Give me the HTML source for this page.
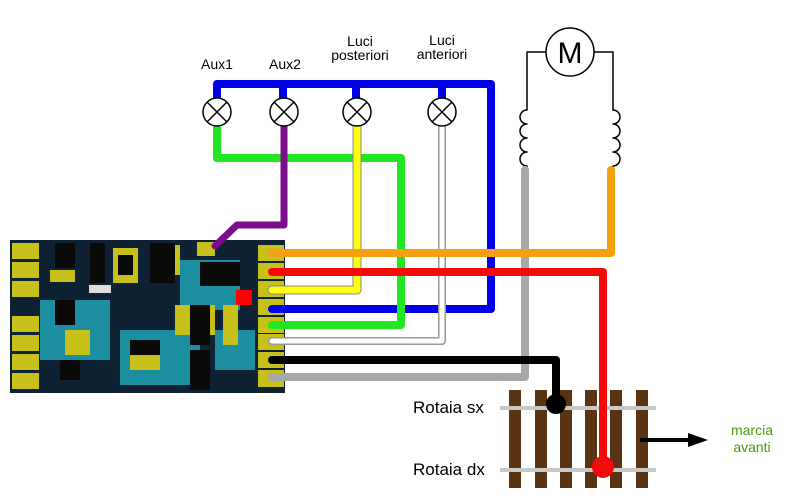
<!DOCTYPE html>
<html><head><meta charset="utf-8"><style>
html,body{margin:0;padding:0;background:#fff;width:805px;height:496px;overflow:hidden}
svg{display:block;font-family:"Liberation Sans",sans-serif}
</style></head><body>
<svg width="805" height="496" viewBox="0 0 805 496">
<!-- PCB -->
<rect x="10" y="240" width="275" height="153" fill="#0e2233"/>
<g fill="#1b8fa0">
<rect x="40" y="300" width="70" height="60"/><rect x="120" y="330" width="80" height="55"/><rect x="180" y="260" width="60" height="50"/><rect x="215" y="330" width="40" height="40"/>
</g>
<g fill="#c8c01a">
<rect x="12" y="243" width="27" height="16"/><rect x="12" y="262" width="27" height="16"/><rect x="12" y="281" width="27" height="16"/><rect x="12" y="316" width="27" height="16"/><rect x="12" y="335" width="27" height="16"/><rect x="12" y="354" width="27" height="16"/><rect x="12" y="373" width="27" height="16"/>
<rect x="258" y="245" width="26" height="16"/><rect x="258" y="263" width="26" height="16"/><rect x="258" y="281" width="26" height="16"/><rect x="258" y="299" width="26" height="16"/><rect x="258" y="317" width="26" height="16"/><rect x="258" y="334" width="26" height="16"/><rect x="258" y="352" width="26" height="16"/><rect x="258" y="370" width="26" height="17"/>
<rect x="197" y="242" width="18" height="14"/>
<rect x="50" y="270" width="25" height="12"/><rect x="113" y="248" width="25" height="35"/><rect x="175" y="305" width="40" height="30"/><rect x="130" y="350" width="30" height="20"/><rect x="65" y="330" width="25" height="25"/><rect x="223" y="305" width="15" height="40"/><rect x="160" y="245" width="20" height="30"/>
</g>
<g fill="#0a0a0a">
<rect x="55" y="243" width="20" height="25"/><rect x="90" y="243" width="15" height="40"/><rect x="118" y="255" width="15" height="20"/><rect x="150" y="243" width="25" height="40"/><rect x="200" y="262" width="40" height="24"/><rect x="190" y="305" width="20" height="40"/><rect x="190" y="350" width="20" height="40"/><rect x="130" y="340" width="30" height="15"/><rect x="60" y="360" width="20" height="20"/><rect x="55" y="300" width="20" height="25"/>
</g>
<rect x="236" y="290" width="16" height="15" fill="#f00"/>
<rect x="89" y="285" width="22" height="8" fill="#ddd"/>

<g fill="none" stroke-linejoin="round" stroke-linecap="round">
<path d="M217 100 V84 H491 V309 H272" stroke="#0000e6" stroke-width="8"/>
<path d="M283 84 V100 M356 84 V100 M442 84 V100" stroke="#0000e6" stroke-width="8" stroke-linecap="butt"/>
<path d="M217 124 V158 H401 V325 H272" stroke="#22e622" stroke-width="8"/>
<path d="M284 124 V225 H237 L215 246" stroke="#7a0d8a" stroke-width="7"/>
<path d="M357 124 V290 H272" stroke="#888" stroke-width="9"/>
<path d="M357 124 V290 H272" stroke="#ffff10" stroke-width="7"/>
<path d="M442 124 V341 H272" stroke="#999" stroke-width="8"/>
<path d="M442 124 V341 H272" stroke="#fff" stroke-width="5"/>
<path d="M546 52 H527 V110 M594 52 H613 V110" stroke="#000" stroke-width="1.5" stroke-linecap="butt"/>
<path d="M527 110 a7 7 0 1 0 0 14 a7 7 0 1 0 0 14 a7 7 0 1 0 0 14 a7 7 0 1 0 0 14 M527 166 V170" stroke="#000" stroke-width="1.5"/>
<path d="M613 110 a7 7 0 1 1 0 14 a7 7 0 1 1 0 14 a7 7 0 1 1 0 14 a7 7 0 1 1 0 14 M613 166 V170" stroke="#000" stroke-width="1.5"/>
<path d="M525 170 V377 H272" stroke="#a8a8a8" stroke-width="8"/>
<path d="M611 170 V253 H272" stroke="#f5a010" stroke-width="8"/>
</g>
<circle cx="570" cy="52" r="24" fill="#fff" stroke="#000" stroke-width="1.5"/>
<text x="570" y="63" font-size="30" text-anchor="middle">M</text>
<g fill="#fff" stroke="#000" stroke-width="1.5">
<circle cx="217" cy="112" r="14"/><circle cx="284" cy="112" r="14"/><circle cx="357" cy="112" r="14"/><circle cx="442" cy="112" r="14"/>
</g>
<g stroke="#000" stroke-width="1.5">
<path d="M207 102 L227 122 M227 102 L207 122"/>
<path d="M274 102 L294 122 M294 102 L274 122"/>
<path d="M347 102 L367 122 M367 102 L347 122"/>
<path d="M432 102 L452 122 M452 102 L432 122"/>
</g>
<g font-size="14" text-anchor="middle" fill="#000">
<text x="217" y="69">Aux1</text><text x="285" y="69">Aux2</text>
<text x="360" y="46">Luci</text><text x="360" y="60">posteriori</text>
<text x="442" y="45">Luci</text><text x="442" y="59">anteriori</text>
</g>
<g fill="#5a3312">
<rect x="509" y="390" width="12" height="98"/><rect x="535" y="390" width="12" height="98"/><rect x="560" y="390" width="12" height="98"/><rect x="585" y="390" width="12" height="98"/><rect x="610" y="390" width="12" height="98"/><rect x="636" y="390" width="12" height="98"/>
</g>
<rect x="500" y="406" width="156" height="4" fill="#c8c8c8"/>
<rect x="500" y="468" width="156" height="4" fill="#c8c8c8"/>
<g fill="none" stroke-linejoin="round" stroke-linecap="round">
<path d="M272 360 H556 V404" stroke="#000" stroke-width="8"/>
<path d="M272 272 H603 V467" stroke="#f50a0a" stroke-width="8"/>
</g>
<circle cx="556" cy="404" r="10" fill="#000"/>
<circle cx="603" cy="467" r="11" fill="#f50a0a"/>
<text x="413" y="413" font-size="17">Rotaia sx</text>
<text x="413" y="475" font-size="17">Rotaia dx</text>
<path d="M640 440 H692" stroke="#000" stroke-width="4"/>
<path d="M688 433 L708 440 L688 447 Z" fill="#000"/>
<g font-size="14" fill="#4a9a10" text-anchor="middle"><text x="752" y="435">marcia</text><text x="752" y="452">avanti</text></g>
</svg>
</body></html>
